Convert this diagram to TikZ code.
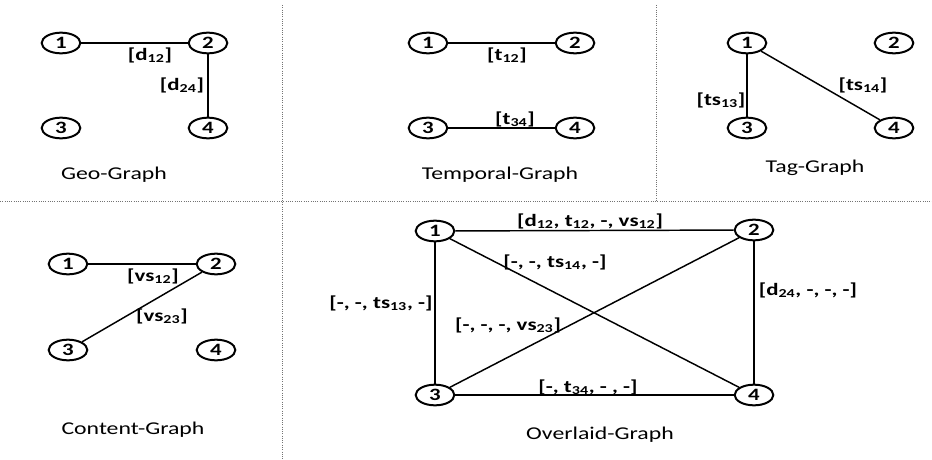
\documentclass[tikz,border=0pt]{standalone}
\usepackage{fontspec}
\setmainfont{Carlito}[FakeStretch=1.32]
\usetikzlibrary{shapes.geometric}

\begin{document}
\begin{tikzpicture}[
  x=0.75pt,
  y=-0.75pt,
  vtx/.style={ellipse, draw=black, line width=1.5pt, fill=white, minimum width=29pt, minimum height=15.5pt, inner sep=0pt, font=\fontsize{13}{15}\selectfont\bfseries},
  link/.style={line width=1.1pt},
  elab/.style={inner sep=1pt, font=\fontsize{13}{15}\selectfont\bfseries},
  title/.style={font=\fontsize{13.5}{15}\selectfont},
  sep/.style={densely dotted, draw=black!55, line width=0.7pt}
]
\useasboundingbox (0,0) rectangle (932,460);
\draw[sep] (0,201) -- (932,201);
\draw[sep] (282,5) -- (282,460);
\draw[sep] (656,5) -- (656,201);

\node[vtx] (g1) at (61,43) {1};
\node[vtx] (g2) at (208,43) {2};
\node[vtx] (g3) at (61,128) {3};
\node[vtx] (g4) at (208,128) {4};
\draw[link] (g1) -- (g2);
\draw[link] (g2) -- (g4);
\node[elab] (gl12) at (150,55) {[d\textsubscript{12}]};
\node[elab] (gl24) at (182,85) {[d\textsubscript{24}]};
\node[title] (gt) at (114,175) {Geo-Graph};

\node[vtx] (t1) at (428,43) {1};
\node[vtx] (t2) at (575,43) {2};
\node[vtx] (t3) at (428,128) {3};
\node[vtx] (t4) at (575,128) {4};
\draw[link] (t1) -- (t2);
\draw[link] (t3) -- (t4);
\node[elab] (tl12) at (507,55) {[t\textsubscript{12}]};
\node[elab] (tl34) at (515,119) {[t\textsubscript{34}]};
\node[title] (tt) at (500,175) {Temporal-Graph};

\node[vtx] (s1) at (747,43) {1};
\node[vtx] (s2) at (894,43) {2};
\node[vtx] (s3) at (747,128) {3};
\node[vtx] (s4) at (894,128) {4};
\draw[link] (s1) -- (s3);
\draw[link] (s1) -- (s4);
\node[elab] (sl13) at (721,100) {[ts\textsubscript{13}]};
\node[elab] (sl14) at (863,85) {[ts\textsubscript{14}]};
\node[title] (st) at (815,168) {Tag-Graph};

\node[vtx] (c1) at (68,264) {1};
\node[vtx] (c2) at (216,264) {2};
\node[vtx] (c3) at (68,350) {3};
\node[vtx] (c4) at (216,350) {4};
\draw[link] (c1) -- (c2);
\draw[link] (c2) -- (c3);
\node[elab] (cl12) at (153,276) {[vs\textsubscript{12}]};
\node[elab] (cl23) at (162,316) {[vs\textsubscript{23}]};
\node[title] (ct) at (133,430) {Content-Graph};

\node[vtx] (o1) at (435,231) {1};
\node[vtx] (o2) at (754,230) {2};
\node[vtx] (o3) at (435,395) {3};
\node[vtx] (o4) at (754,395) {4};
\draw[link] (o1) -- (o2);
\draw[link] (o1) -- (o3);
\draw[link] (o1) -- (o4);
\draw[link] (o2) -- (o3);
\draw[link] (o2) -- (o4);
\draw[link] (o3) -- (o4);
\node[elab] (ol12) at (590,221) {[d\textsubscript{12}, t\textsubscript{12}, -, vs\textsubscript{12}]};
\node[elab] (ol14) at (555,262) {[-, -, ts\textsubscript{14}, -]};
\node[elab] (ol13) at (381,303) {[-, -, ts\textsubscript{13}, -]};
\node[elab] (ol23) at (508,325) {[-, -, -, vs\textsubscript{23}]};
\node[elab] (ol24) at (808,290) {[d\textsubscript{24}, -, -, -]};
\node[elab] (ol34) at (588,387) {[-, t\textsubscript{34}, - , -]};
\node[title] (ot) at (600,435) {Overlaid-Graph};
\end{tikzpicture}
\end{document}
